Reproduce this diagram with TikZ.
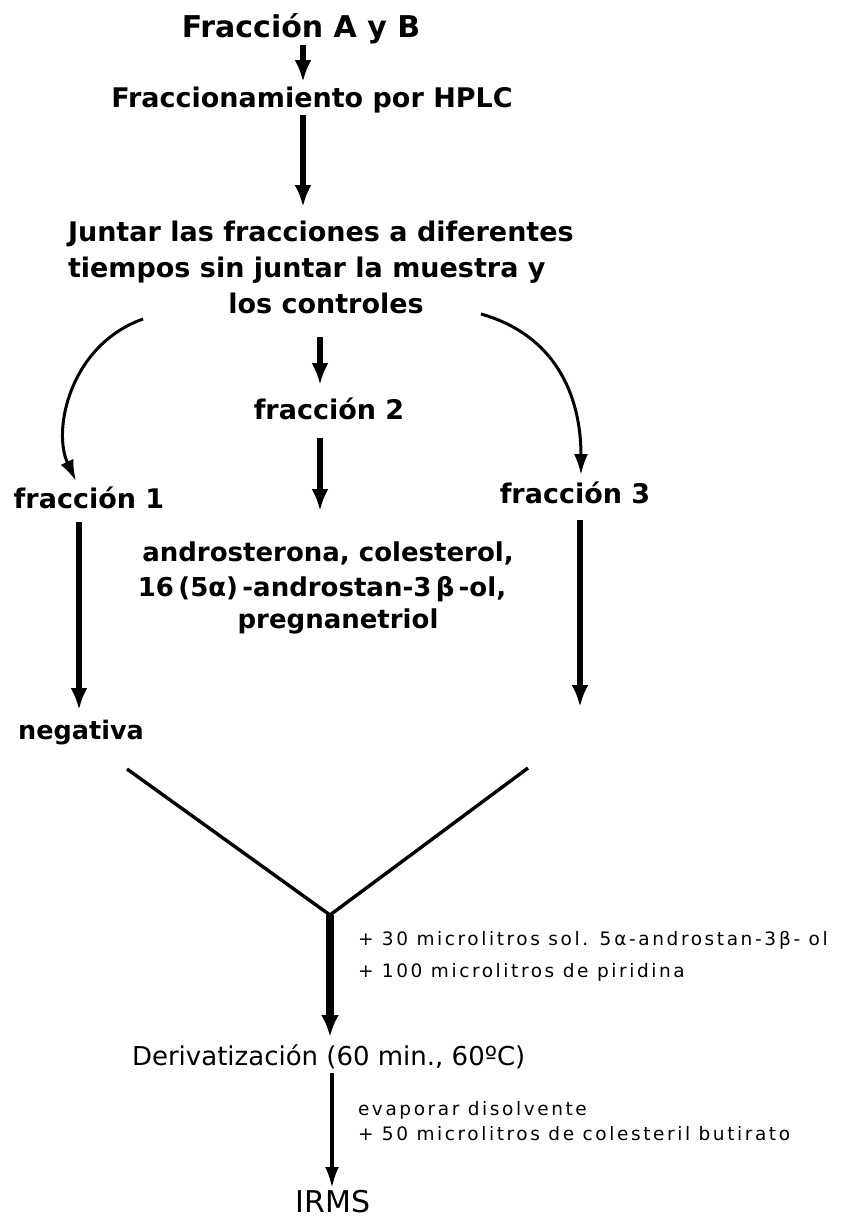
\documentclass[tikz,border=0pt]{standalone}
\usepackage{fontspec}
\setmainfont{DejaVu Sans}
\newfontfamily\annfont[LetterSpace=14]{DejaVu Sans}
\usetikzlibrary{arrows.meta,calc}
\tikzset{
  txt/.style={inner sep=0pt, outer sep=0pt},
  boldA/.style={txt, font=\fontsize{27pt}{32pt}\selectfont\bfseries},
  boldT/.style={txt, font=\fontsize{30pt}{36pt}\selectfont\bfseries},
  boldC/.style={txt, font=\fontsize{26pt}{31pt}\selectfont\bfseries},
  boldN/.style={txt, font=\fontsize{25.5pt}{30pt}\selectfont\bfseries},
  regD/.style={txt, font=\fontsize{26pt}{31pt}\selectfont},
  regI/.style={txt, font=\fontsize{30pt}{36pt}\selectfont},
  ann/.style={txt, font=\fontsize{18.5pt}{22pt}\annfont},
  arrbold/.style={line width=5.5pt, -{Latex[length=22pt,width=17pt]}},
  arrcurve/.style={line width=3pt, -{Latex[length=21pt,width=14pt]}},
  arrthick/.style={line width=8pt, -{Latex[length=22pt,width=18pt]}},
  arrthin/.style={line width=3.5pt, -{Latex[length=21pt,width=14pt]}},
  vline/.style={line width=3.4pt, line join=round},
}
\begin{document}
\begin{tikzpicture}[x=1pt,y=-1pt]
\useasboundingbox[fill=white] (0,0) rectangle (845,1219);
% texts
\node[boldT, anchor=base] (title) at (301,37) {Fracción A y B};
\node[boldA, anchor=base] (hplc) at (312,107) {Fraccionamiento por HPLC};
\node[boldA, anchor=base west] (j1) at (68,241) {Juntar las fracciones a diferentes};
\node[boldA, anchor=base west] (j2) at (68,277) {tiempos sin juntar la muestra y};
\node[boldA, anchor=base] (j3) at (326,313) {los controles};
\node[boldA, anchor=base] (f2) at (329,419) {fracción 2};
\node[boldA, anchor=base] (f1) at (89,508) {fracción 1};
\node[boldA, anchor=base] (f3) at (575,503) {fracción 3};
\node[boldC, anchor=base] (c1) at (328,561) {androsterona, colesterol,};
\node[boldC, anchor=base] (c2) at (322,596) {16\,(5α)\,-androstan-3\,β\,-ol,};
\node[boldC, anchor=base] (c3) at (338,628) {pregnanetriol};
\node[boldN, anchor=base] (neg) at (81,739) {negativa};
\node[ann, anchor=base west] (a30) at (358,945) {+ 30 microlitros sol. 5\,α-androstan-3\,β- ol};
\node[ann, anchor=base west] (a100) at (358,977) {+ 100 microlitros de piridina};
\node[regD, anchor=base west] (deriv) at (132,1065) {Derivatización (60 min., 60ºC)};
\node[ann, anchor=base west] (evap) at (358,1115) {evaporar disolvente};
\node[ann, anchor=base west] (a50) at (358,1140) {+ 50 microlitros de colesteril butirato};
\node[regI, anchor=base] (irms) at (333,1212) {IRMS};
% coordinates
\coordinate (r3end) at (580,707);
\coordinate (vl) at (127,769);
\coordinate (vr) at (528,768);
\coordinate (vj) at (330,915);
% connectors
\draw[arrbold] ($(title.base)+(2,8)$) -- ($(hplc.base)+(-9,-25)$);
\draw[arrbold] ($(hplc.base)+(-9,8)$) -- ($(j1.base west)+(235,-34)$);
\draw[arrbold] ($(j3.base)+(-6,24)$) -- ($(f2.base)+(-9,-34)$);
\draw[arrbold] ($(f2.base)+(-9,19)$) -- ($(c1.base)+(-8,-50)$);
\draw[arrcurve] ($(j3.base)+(-183,6)$) .. controls (70,345) and (52,430) .. ($(f1.base)+(-13,-27)$);
\draw[arrcurve] ($(j3.base)+(155,1)$) .. controls (555,335) and (581,395) .. ($(f3.base)+(6,-28)$);
\draw[arrbold] ($(f1.base)+(-10,14)$) -- ($(neg.base)+(-2,-29)$);
\draw[arrbold] ($(f3.base)+(5,17)$) -- (r3end);
\draw[vline] (vl) -- (vj) -- (vr);
\draw[arrthick] (vj) -- ($(deriv.base west)+(198,-28)$);
\draw[arrthin] ($(deriv.base west)+(200,8)$) -- ($(irms.base)+(-1,-24)$);
\end{tikzpicture}
\end{document}
